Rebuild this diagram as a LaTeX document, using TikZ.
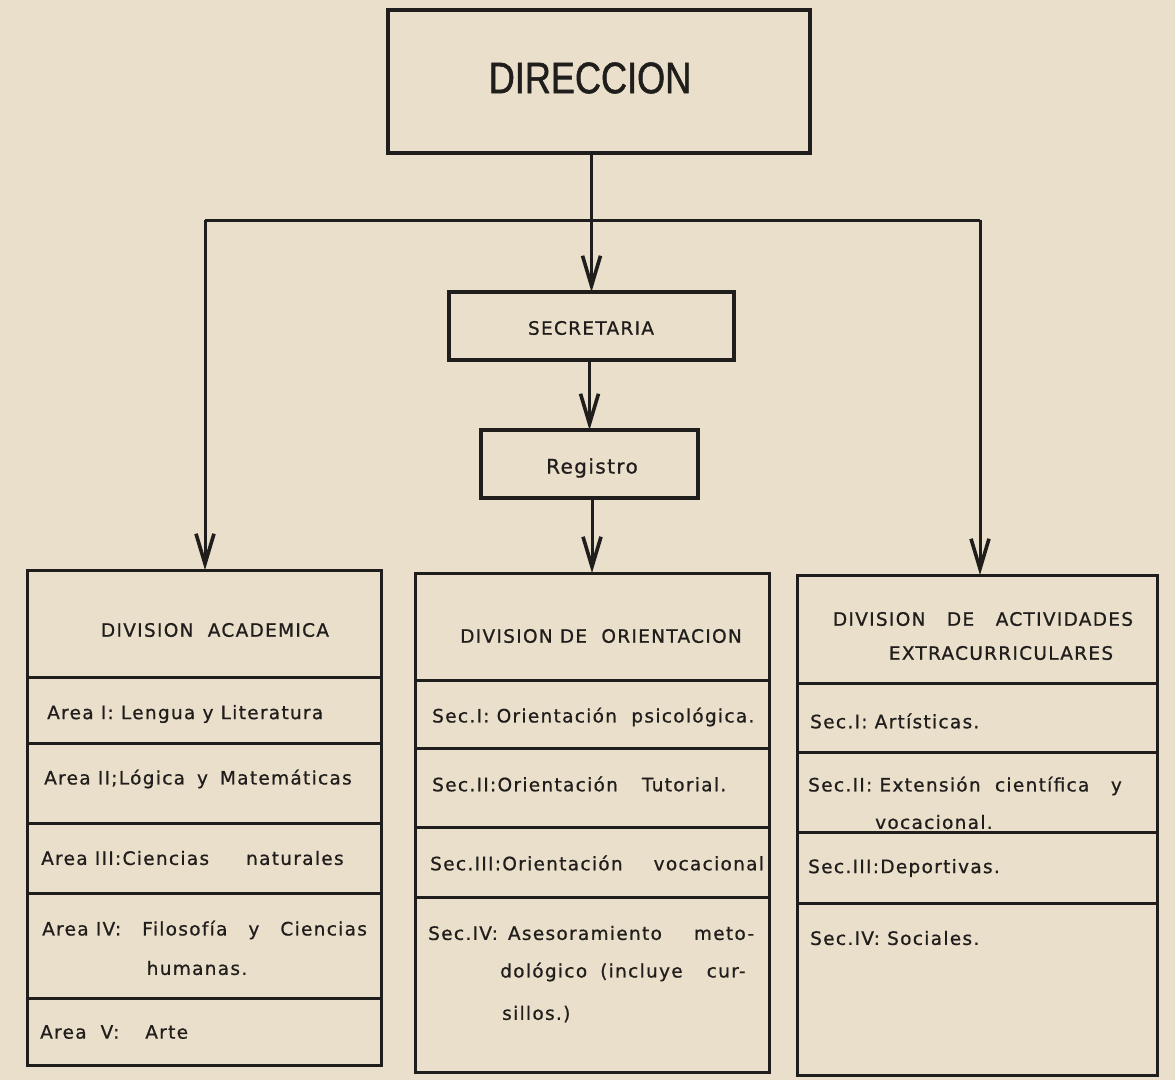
\documentclass[tikz,border=0pt]{standalone}
\usepackage{fontspec}
\setmainfont{DejaVu Sans}[LetterSpace=7,FakeBold=0.8]
\newfontfamily\bigfont{Liberation Sans}[FakeStretch=0.82,FakeBold=1.2]
\usetikzlibrary{arrows.meta}
\definecolor{paper}{RGB}{234,223,202}
\definecolor{ink}{RGB}{32,30,28}
\begin{document}
\begin{tikzpicture}[x=1pt,y=-1pt,
  box/.style={draw=ink, line width=3.4pt, inner sep=0pt, outer sep=0pt},
  cell/.style={draw=ink, line width=3pt, inner sep=0pt, outer sep=0pt},
  txt/.style={anchor=west, inner sep=0pt, text=ink, font=\fontsize{18.5}{22}\selectfont},
  hdr/.style={anchor=center, inner sep=0pt, text=ink, font=\fontsize{18.5}{22}\selectfont},
  conn/.style={draw=ink, line width=3pt},
  arr/.style={conn, -{Straight Barb[length=30pt,width=18pt,line width=3.6pt]}}
]
\fill[paper] (0,0) rectangle (1175,1080);
\useasboundingbox (0,0) rectangle (1175,1080);

% top boxes
\node[box, minimum width=422pt, minimum height=143pt] (dir) at (599,81.5) {};
\node[inner sep=0pt, text=ink, font=\bigfont\fontsize{44}{48}\selectfont] (dirt) at (590,78) {DIRECCION};
\node[box, minimum width=285pt, minimum height=68pt] (sec) at (591.5,326) {};
\node[hdr] (sect) at (591,328) {SECRETARIA};
\node[box, minimum width=217pt, minimum height=68pt] (reg) at (589.5,464) {};
\node[hdr, font=\fontsize{20}{24}\selectfont] (regt) at (592,468) {Registro};

% Division Academica
\node[cell, minimum width=354pt, minimum height=107pt] (a0) at (204,623.5) {};
\node[cell, minimum width=354pt, minimum height=66pt] (a1) at (204,710) {};
\node[cell, minimum width=354pt, minimum height=80pt] (a2) at (204,783) {};
\node[cell, minimum width=354pt, minimum height=70pt] (a3) at (204,858) {};
\node[cell, minimum width=354pt, minimum height=105pt] (a4) at (204,945.5) {};
\node[cell, minimum width=354pt, minimum height=67pt] (a5) at (204,1031.5) {};
\node[hdr] (a0t) at (215,630) {DIVISION\ \ ACADEMICA};
\node[txt] (a1t) at (47,714) {Area I: Lengua y Literatura};
\node[txt] (a2t) at (44,779) {Area II;Lógica\hspace{12pt}y\hspace{12pt}Matemáticas};
\node[txt] (a3t) at (41,858) {Area III:Ciencias\hspace{37pt}naturales};
\node[txt] (a4t) at (42,930) {Area IV:\hspace{21pt}Filosofía\hspace{21pt}y\hspace{21pt}Ciencias};
\node[hdr] (a4u) at (197,968) {humanas.};
\node[txt] (a5t) at (40,1032) {Area\hspace{14pt}V:\hspace{26pt}Arte};

% Division de Orientacion
\node[cell, minimum width=354pt, minimum height=107pt] (o0) at (592,626.5) {};
\node[cell, minimum width=354pt, minimum height=68pt] (o1) at (592,714) {};
\node[cell, minimum width=354pt, minimum height=79pt] (o2) at (592,787.5) {};
\node[cell, minimum width=354pt, minimum height=70pt] (o3) at (592,862) {};
\node[cell, minimum width=354pt, minimum height=175pt] (o4) at (592,984.5) {};
\node[hdr] (o0t) at (601,636) {DIVISION DE\ \ ORIENTACION};
\node[txt] (o1t) at (432,717) {Sec.I: Orientación\ \ psicológica.};
\node[txt] (o2t) at (432,784) {Sec.II:Orientación\hspace{24pt}Tutorial.};
\node[txt] (o3t) at (430,863) {Sec.III:Orientación\hspace{31pt}vocacional};
\node[txt] (o4t) at (428,933) {Sec.IV:\hspace{10pt}Asesoramiento\hspace{32pt}meto-};
\node[txt] (o4u) at (500,972) {dológico\hspace{13pt}(incluye\hspace{24pt}cur-};
\node[txt] (o4v) at (502,1014) {sillos.)};

% Division de Actividades Extracurriculares
\node[cell, minimum width=360pt, minimum height=108pt] (e0) at (977,629) {};
\node[cell, minimum width=360pt, minimum height=69pt] (e1) at (977,717.5) {};
\node[cell, minimum width=360pt, minimum height=80pt] (e2) at (977,792) {};
\node[cell, minimum width=360pt, minimum height=71pt] (e3) at (977,867.5) {};
\node[cell, minimum width=360pt, minimum height=172pt] (e4) at (977,989) {};
\node[hdr] (e0t) at (983,619) {DIVISION\ \ \ DE\ \ \ ACTIVIDADES};
\node[hdr] (e0u) at (1001,653) {EXTRACURRICULARES};
\node[txt] (e1t) at (810,721) {Sec.I: Artísticas.};
\node[txt] (e2t) at (808,786) {Sec.II: Extensión\ \ científica\ \ \ y};
\node[txt] (e2u) at (875,822) {vocacional.};
\node[txt] (e3t) at (808,868) {Sec.III:Deportivas.};
\node[txt] (e4t) at (810,938) {Sec.IV: Sociales.};

% connectors
\coordinate (bl) at (205,220);
\coordinate (br) at (980,220);
\draw[conn] (bl) -- (br);
\draw[arr] (dir.south -| sec.north) -- (sec.north);
\draw[arr] (sec.south -| reg.north) -- (reg.north);
\draw[arr] (reg.south -| o0.north) -- (o0.north);
\draw[arr] (bl) -- (bl |- a0.north);
\draw[arr] (br) -- (br |- e0.north);
\end{tikzpicture}
\end{document}
